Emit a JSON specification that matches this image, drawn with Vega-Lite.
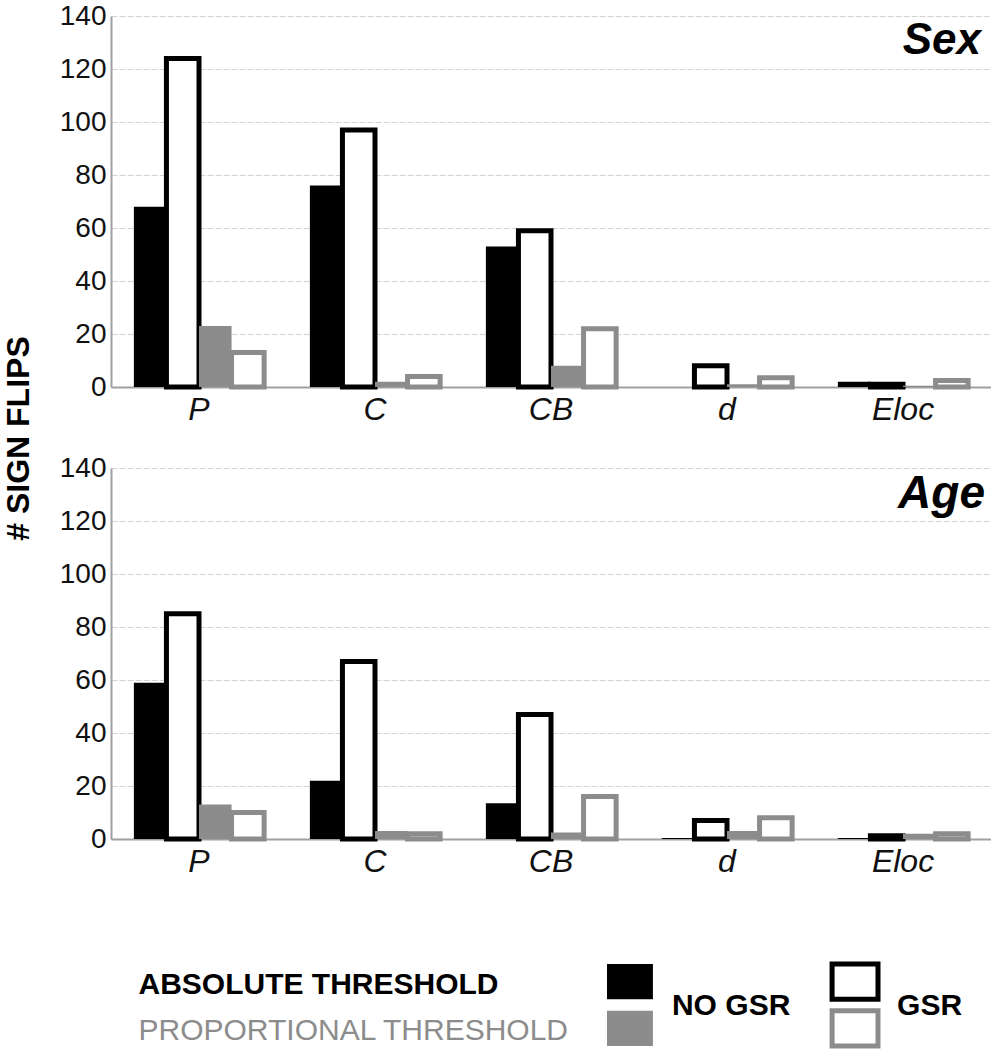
{
  "$schema": "https://vega.github.io/schema/vega-lite/v6.json",
  "padding": {"left": 2, "top": 2, "right": 0, "bottom": 0},
  "background": "white",
  "config": {"font": "Liberation Sans", "view": {"stroke": null}},
  "datasets": {
    "bars": [
      {"trait": "Sex", "metric": "P", "thr": "Absolute", "gsr": "NO GSR", "series": "Absolute NO GSR", "value": 68},
      {"trait": "Sex", "metric": "P", "thr": "Absolute", "gsr": "GSR", "series": "Absolute GSR", "value": 124},
      {"trait": "Sex", "metric": "P", "thr": "Proportional", "gsr": "NO GSR", "series": "Proportional NO GSR", "value": 23},
      {"trait": "Sex", "metric": "P", "thr": "Proportional", "gsr": "GSR", "series": "Proportional GSR", "value": 13},
      {"trait": "Sex", "metric": "C", "thr": "Absolute", "gsr": "NO GSR", "series": "Absolute NO GSR", "value": 76},
      {"trait": "Sex", "metric": "C", "thr": "Absolute", "gsr": "GSR", "series": "Absolute GSR", "value": 97},
      {"trait": "Sex", "metric": "C", "thr": "Proportional", "gsr": "NO GSR", "series": "Proportional NO GSR", "value": 2},
      {"trait": "Sex", "metric": "C", "thr": "Proportional", "gsr": "GSR", "series": "Proportional GSR", "value": 4},
      {"trait": "Sex", "metric": "CB", "thr": "Absolute", "gsr": "NO GSR", "series": "Absolute NO GSR", "value": 53},
      {"trait": "Sex", "metric": "CB", "thr": "Absolute", "gsr": "GSR", "series": "Absolute GSR", "value": 59},
      {"trait": "Sex", "metric": "CB", "thr": "Proportional", "gsr": "NO GSR", "series": "Proportional NO GSR", "value": 8},
      {"trait": "Sex", "metric": "CB", "thr": "Proportional", "gsr": "GSR", "series": "Proportional GSR", "value": 22},
      {"trait": "Sex", "metric": "d", "thr": "Absolute", "gsr": "NO GSR", "series": "Absolute NO GSR", "value": 0},
      {"trait": "Sex", "metric": "d", "thr": "Absolute", "gsr": "GSR", "series": "Absolute GSR", "value": 8},
      {"trait": "Sex", "metric": "d", "thr": "Proportional", "gsr": "NO GSR", "series": "Proportional NO GSR", "value": 1},
      {"trait": "Sex", "metric": "d", "thr": "Proportional", "gsr": "GSR", "series": "Proportional GSR", "value": 3.5},
      {"trait": "Sex", "metric": "Eloc", "thr": "Absolute", "gsr": "NO GSR", "series": "Absolute NO GSR", "value": 2},
      {"trait": "Sex", "metric": "Eloc", "thr": "Absolute", "gsr": "GSR", "series": "Absolute GSR", "value": 1},
      {"trait": "Sex", "metric": "Eloc", "thr": "Proportional", "gsr": "NO GSR", "series": "Proportional NO GSR", "value": 0.5},
      {"trait": "Sex", "metric": "Eloc", "thr": "Proportional", "gsr": "GSR", "series": "Proportional GSR", "value": 2.5},
      {"trait": "Age", "metric": "P", "thr": "Absolute", "gsr": "NO GSR", "series": "Absolute NO GSR", "value": 59},
      {"trait": "Age", "metric": "P", "thr": "Absolute", "gsr": "GSR", "series": "Absolute GSR", "value": 85},
      {"trait": "Age", "metric": "P", "thr": "Proportional", "gsr": "NO GSR", "series": "Proportional NO GSR", "value": 13},
      {"trait": "Age", "metric": "P", "thr": "Proportional", "gsr": "GSR", "series": "Proportional GSR", "value": 10},
      {"trait": "Age", "metric": "C", "thr": "Absolute", "gsr": "NO GSR", "series": "Absolute NO GSR", "value": 22},
      {"trait": "Age", "metric": "C", "thr": "Absolute", "gsr": "GSR", "series": "Absolute GSR", "value": 67},
      {"trait": "Age", "metric": "C", "thr": "Proportional", "gsr": "NO GSR", "series": "Proportional NO GSR", "value": 3},
      {"trait": "Age", "metric": "C", "thr": "Proportional", "gsr": "GSR", "series": "Proportional GSR", "value": 2},
      {"trait": "Age", "metric": "CB", "thr": "Absolute", "gsr": "NO GSR", "series": "Absolute NO GSR", "value": 13.5},
      {"trait": "Age", "metric": "CB", "thr": "Absolute", "gsr": "GSR", "series": "Absolute GSR", "value": 47},
      {"trait": "Age", "metric": "CB", "thr": "Proportional", "gsr": "NO GSR", "series": "Proportional NO GSR", "value": 2.5},
      {"trait": "Age", "metric": "CB", "thr": "Proportional", "gsr": "GSR", "series": "Proportional GSR", "value": 16},
      {"trait": "Age", "metric": "d", "thr": "Absolute", "gsr": "NO GSR", "series": "Absolute NO GSR", "value": 0.4},
      {"trait": "Age", "metric": "d", "thr": "Absolute", "gsr": "GSR", "series": "Absolute GSR", "value": 7},
      {"trait": "Age", "metric": "d", "thr": "Proportional", "gsr": "NO GSR", "series": "Proportional NO GSR", "value": 3},
      {"trait": "Age", "metric": "d", "thr": "Proportional", "gsr": "GSR", "series": "Proportional GSR", "value": 8},
      {"trait": "Age", "metric": "Eloc", "thr": "Absolute", "gsr": "NO GSR", "series": "Absolute NO GSR", "value": 0.4},
      {"trait": "Age", "metric": "Eloc", "thr": "Absolute", "gsr": "GSR", "series": "Absolute GSR", "value": 1.2},
      {"trait": "Age", "metric": "Eloc", "thr": "Proportional", "gsr": "NO GSR", "series": "Proportional NO GSR", "value": 2},
      {"trait": "Age", "metric": "Eloc", "thr": "Proportional", "gsr": "GSR", "series": "Proportional GSR", "value": 2}
    ],
    "titles": [{"trait": "Sex"}, {"trait": "Age"}],
    "legend": [
      {"thr": "ABSOLUTE THRESHOLD", "gsr": "NO GSR", "series": "Absolute NO GSR"},
      {"thr": "ABSOLUTE THRESHOLD", "gsr": "GSR", "series": "Absolute GSR"},
      {"thr": "PROPORTIONAL THRESHOLD", "gsr": "NO GSR", "series": "Proportional NO GSR"},
      {"thr": "PROPORTIONAL THRESHOLD", "gsr": "GSR", "series": "Proportional GSR"}
    ],
    "legtext": [{"gsr": "NO GSR"}, {"gsr": "GSR"}]
  },
  "bounds": "flush",
  "spacing": 81,
  "vconcat": [
    {
      "width": 880,
      "height": 371,
      "layer": [
        {
          "data": {"name": "bars"},
          "transform": [{"filter": "datum.trait == 'Sex'"}],
          "mark": {"type": "bar"},
          "encoding": {
            "x": {"field": "metric", "type": "nominal", "sort": ["P", "C", "CB", "d", "Eloc"], "title": null,
              "scale": {"paddingInner": 0.26, "paddingOuter": 0.13},
              "axis": {"labelAngle": 0, "labelFontSize": 32, "labelFontStyle": "italic", "labelColor": "#111", "labelPadding": 7, "ticks": false, "domainColor": "#a0a0a0", "domainWidth": 2, "grid": false}},
            "xOffset": {"field": "series", "type": "nominal", "sort": ["Absolute NO GSR", "Absolute GSR", "Proportional NO GSR", "Proportional GSR"], "scale": {"paddingInner": 0, "paddingOuter": 0}},
            "y": {"field": "value", "type": "quantitative", "title": "# SIGN FLIPS",
              "scale": {"domain": [0, 140]},
              "axis": {"values": [0, 20, 40, 60, 80, 100, 120, 140], "labelFontSize": 28, "labelColor": "#111", "labelPadding": 5, "ticks": false, "domainColor": "#a0a0a0", "domainWidth": 2, "grid": true, "gridColor": "#d2d2d2", "gridDash": [6, 2], "gridWidth": 1,
                "titleFontSize": 32, "titleFontWeight": "bold", "titleColor": "#000", "titleY": 422, "titleX": -83, "titleBaseline": "alphabetic", "titleAlign": "center", "titleAngle": -90}},
            "fill": {"field": "series", "type": "nominal", "legend": null,
              "scale": {"domain": ["Absolute NO GSR", "Absolute GSR", "Proportional NO GSR", "Proportional GSR"], "range": ["#000000", "#ffffff", "#8c8c8c", "#ffffff"]}},
            "stroke": {"field": "series", "type": "nominal", "legend": null,
              "scale": {"domain": ["Absolute NO GSR", "Absolute GSR", "Proportional NO GSR", "Proportional GSR"], "range": ["#000000", "#000000", "#8c8c8c", "#8c8c8c"]}},
            "strokeWidth": {"condition": {"test": "datum.gsr == 'GSR'", "value": 5}, "value": 0}
          }
        },
        {
          "data": {"name": "titles"},
          "transform": [{"filter": "datum.trait == 'Sex'"}],
          "mark": {"type": "text", "align": "right", "baseline": "alphabetic", "dx": -10, "dy": 38, "fontSize": 44, "fontStyle": "italic", "fontWeight": "bold", "color": "#000"},
          "encoding": {
            "x": {"value": "width"},
            "y": {"datum": 140, "type": "quantitative"},
            "text": {"field": "trait"}
          }
        }
      ]
    },
    {
      "width": 880,
      "height": 371,
      "layer": [
        {
          "data": {"name": "bars"},
          "transform": [{"filter": "datum.trait == 'Age'"}],
          "mark": {"type": "bar"},
          "encoding": {
            "x": {"field": "metric", "type": "nominal", "sort": ["P", "C", "CB", "d", "Eloc"], "title": null,
              "scale": {"paddingInner": 0.26, "paddingOuter": 0.13},
              "axis": {"labelAngle": 0, "labelFontSize": 32, "labelFontStyle": "italic", "labelColor": "#111", "labelPadding": 7, "ticks": false, "domainColor": "#a0a0a0", "domainWidth": 2, "grid": false}},
            "xOffset": {"field": "series", "type": "nominal", "sort": ["Absolute NO GSR", "Absolute GSR", "Proportional NO GSR", "Proportional GSR"], "scale": {"paddingInner": 0, "paddingOuter": 0}},
            "y": {"field": "value", "type": "quantitative", "title": null,
              "scale": {"domain": [0, 140]},
              "axis": {"values": [0, 20, 40, 60, 80, 100, 120, 140], "labelFontSize": 28, "labelColor": "#111", "labelPadding": 5, "ticks": false, "domainColor": "#a0a0a0", "domainWidth": 2, "grid": true, "gridColor": "#d2d2d2", "gridDash": [6, 2], "gridWidth": 1}},
            "fill": {"field": "series", "type": "nominal", "legend": null,
              "scale": {"domain": ["Absolute NO GSR", "Absolute GSR", "Proportional NO GSR", "Proportional GSR"], "range": ["#000000", "#ffffff", "#8c8c8c", "#ffffff"]}},
            "stroke": {"field": "series", "type": "nominal", "legend": null,
              "scale": {"domain": ["Absolute NO GSR", "Absolute GSR", "Proportional NO GSR", "Proportional GSR"], "range": ["#000000", "#000000", "#8c8c8c", "#8c8c8c"]}},
            "strokeWidth": {"condition": {"test": "datum.gsr == 'GSR'", "value": 5}, "value": 0}
          }
        },
        {
          "data": {"name": "titles"},
          "transform": [{"filter": "datum.trait == 'Age'"}],
          "mark": {"type": "text", "align": "right", "baseline": "alphabetic", "dx": -6, "dy": 40, "fontSize": 46, "fontStyle": "italic", "fontWeight": "bold", "color": "#000"},
          "encoding": {
            "x": {"value": "width"},
            "y": {"datum": 140, "type": "quantitative"},
            "text": {"field": "trait"}
          }
        }
      ]
    },
    {
      "width": 880,
      "height": 127,
      "layer": [
        {
          "data": {"name": "legend"},
          "mark": {"type": "bar"},
          "encoding": {
            "x": {"field": "gsr", "type": "nominal", "sort": ["NO GSR", "GSR"], "axis": null,
              "scale": {"range": [496, 767], "paddingInner": 0.796, "paddingOuter": 0}},
            "y": {"field": "thr", "type": "nominal", "sort": ["ABSOLUTE THRESHOLD", "PROPORTIONAL THRESHOLD"], "title": null,
              "scale": {"range": [44, 126], "paddingInner": 0.25, "paddingOuter": 0},
              "axis": {"domain": false, "ticks": false, "grid": false, "labelAlign": "left", "labelBaseline": "middle", "labelPadding": -27, "labelLimit": 0, "labelFontSize": 30, "labelOffset": 3,
                "labelColor": {"condition": {"test": "datum.value == 'ABSOLUTE THRESHOLD'", "value": "#000000"}, "value": "#8c8c8c"},
                "labelFontWeight": {"condition": {"test": "datum.value == 'ABSOLUTE THRESHOLD'", "value": "bold"}, "value": "normal"}}},
            "fill": {"field": "series", "type": "nominal", "legend": null,
              "scale": {"domain": ["Absolute NO GSR", "Absolute GSR", "Proportional NO GSR", "Proportional GSR"], "range": ["#000000", "#ffffff", "#8c8c8c", "#ffffff"]}},
            "stroke": {"field": "series", "type": "nominal", "legend": null,
              "scale": {"domain": ["Absolute NO GSR", "Absolute GSR", "Proportional NO GSR", "Proportional GSR"], "range": ["#000000", "#000000", "#8c8c8c", "#8c8c8c"]}},
            "strokeWidth": {"condition": {"test": "datum.gsr == 'GSR'", "value": 5}, "value": 0}
          }
        },
        {
          "data": {"name": "legtext"},
          "mark": {"type": "text", "align": "left", "baseline": "middle", "dx": 42, "dy": 22, "fontSize": 30, "fontWeight": "bold", "color": "#000"},
          "encoding": {
            "x": {"field": "gsr", "type": "nominal", "sort": ["NO GSR", "GSR"]},
            "text": {"field": "gsr"}
          }
        }
      ]
    }
  ]
}
